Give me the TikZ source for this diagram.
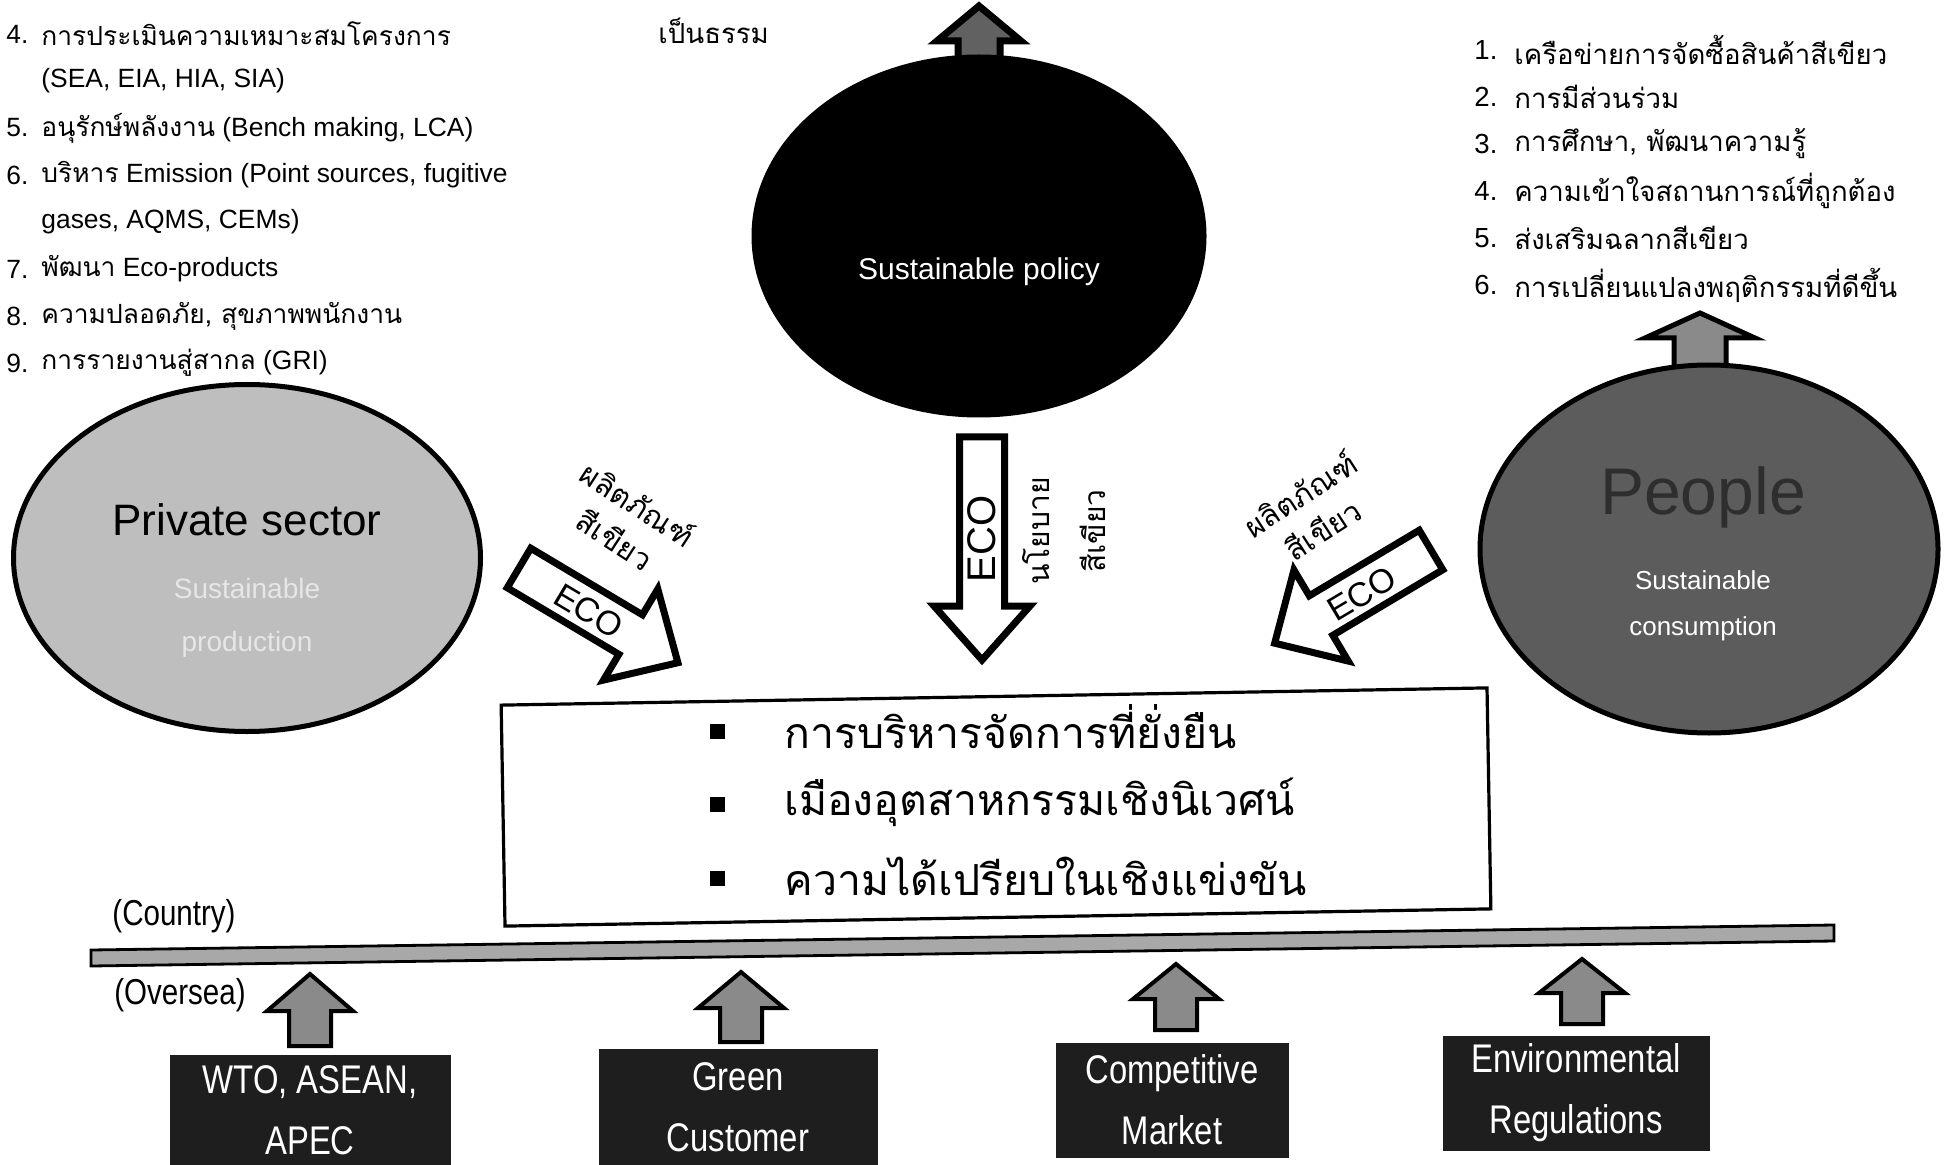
\documentclass[tikz,border=0pt]{standalone}
\usepackage{fontspec}
\setmainfont{Liberation Sans}
\newfontfamily\thaif[Script=Thai]{Loma}
\newfontfamily\narrowf[FakeStretch=0.82]{Liberation Sans}
\usetikzlibrary{shapes.geometric}
\definecolor{privfill}{HTML}{BEBEBE}
\definecolor{peopfill}{HTML}{5C5C5C}
\definecolor{peoptext}{HTML}{2E2E2E}
\definecolor{barfill}{HTML}{A8A8A8}
\definecolor{upfill}{HTML}{8A8A8A}
\definecolor{boxfill}{HTML}{1E1E1E}
\definecolor{privsub}{HTML}{E6E6E6}
\tikzset{
  listtxt/.style={anchor=west, inner sep=0pt, font=\fontsize{13.2}{16}\selectfont},
  rlisttxt/.style={anchor=west, inner sep=0pt, font=\fontsize{13.8}{16}\selectfont},
  bigell/.style={ellipse, draw=black, line width=2.5pt, inner sep=0pt},
  uparrowshape/.style={fill=upfill, draw=black, line width=2pt, line join=miter},
  ecoarrow/.style={fill=white, draw=black, line width=3.5pt, line join=miter},
  ecotxt/.style={inner sep=0pt, font=\fontsize{17}{20}\selectfont},
  thailabel/.style={inner sep=0pt, align=center, font=\thaif\fontsize{15}{21}\selectfont},
  bulletsq/.style={fill=black, inner sep=0pt, minimum size=7.5pt},
  bultxt/.style={anchor=west, inner sep=0pt, font=\thaif\fontsize{21.4}{26}\selectfont},
  darkbox/.style={fill=boxfill, draw=boxfill, inner sep=0pt, text=white, align=center, font=\narrowf\fontsize{20}{30.5}\selectfont},
  sidelabel/.style={inner sep=0pt, font=\narrowf\fontsize{18}{20}\selectfont}
}
\begin{document}
\begin{tikzpicture}[x=0.5pt,y=-0.5pt]
\fill[white] (0,0) rectangle (1946,1165);
\useasboundingbox (0,0) rectangle (1946,1165);

% ---- left list
\node[listtxt] (l4n) at (6,34) {4.};
\node[listtxt] (l4) at (41,34) {\thaif การประเมินความเหมาะสมโครงการ};
\node[listtxt] (l4b) at (41,81) {(SEA, EIA, HIA, SIA)};
\node[listtxt] (l5n) at (6,128) {5.};
\node[listtxt] (l5) at (41,128) {{\thaif อนุรักษ์พลังงาน} (Bench making, LCA)};
\node[listtxt] (l6n) at (6,175) {6.};
\node[listtxt] (l6) at (41,175) {{\thaif บริหาร} Emission (Point sources, fugitive};
\node[listtxt] (l6b) at (41,222) {gases, AQMS, CEMs)};
\node[listtxt] (l7n) at (6,269) {7.};
\node[listtxt] (l7) at (41,269) {{\thaif พัฒนา} Eco-products};
\node[listtxt] (l8n) at (6,316) {8.};
\node[listtxt] (l8) at (41,316) {\thaif ความปลอดภัย, สุขภาพพนักงาน};
\node[listtxt] (l9n) at (6,363) {9.};
\node[listtxt] (l9) at (41,363) {{\thaif การรายงานสู่สากล} (GRI)};

% ---- top centre fragment
\node[rlisttxt] (fair) at (658,31) {\thaif เป็นธรรม};

% ---- right list
\node[rlisttxt] (r1n) at (1474,50) {1.};
\node[rlisttxt] (r1) at (1514,50) {\thaif เครือข่ายการจัดซื้อสินค้าสีเขียว};
\node[rlisttxt] (r2n) at (1474,97) {2.};
\node[rlisttxt] (r2) at (1514,97) {\thaif การมีส่วนร่วม};
\node[rlisttxt] (r3n) at (1474,144) {3.};
\node[rlisttxt] (r3) at (1514,144) {\thaif การศึกษา, พัฒนาความรู้};
\node[rlisttxt] (r4n) at (1474,191) {4.};
\node[rlisttxt] (r4) at (1514,191) {\thaif ความเข้าใจสถานการณ์ที่ถูกต้อง};
\node[rlisttxt] (r5n) at (1474,238) {5.};
\node[rlisttxt] (r5) at (1514,238) {\thaif ส่งเสริมฉลากสีเขียว};
\node[rlisttxt] (r6n) at (1474,285) {6.};
\node[rlisttxt] (r6) at (1514,285) {\thaif การเปลี่ยนแปลงพฤติกรรมที่ดีขึ้น};

% ---- up arrows on ellipses
\draw[uparrowshape, fill=upfill!70!black, line width=3.5pt] (958,62) -- (958,41) -- (937,41) -- (979,6) -- (1021,41) -- (1000,41) -- (1000,62) -- cycle;
\draw[uparrowshape, line width=2.5pt] (1674,372) -- (1674,338) -- (1645,338) -- (1700,313) -- (1755,338) -- (1726,338) -- (1726,372) -- cycle;

% ---- ellipses
\node[bigell, fill=black, minimum width=225pt, minimum height=179pt] (policy) at (979,236) {};
\node[inner sep=0pt, text=white, font=\fontsize{15}{18}\selectfont] (policytxt) at (979,272) {Sustainable policy};

\node[bigell, fill=privfill, minimum width=233.5pt, minimum height=173.5pt] (private) at (247,558) {};
\node[inner sep=0pt, font=\fontsize{22}{26}\selectfont] (privtxt) at (247,520) {Private sector};
\node[inner sep=0pt, text=privsub, font=\fontsize{14}{17}\selectfont] (privsub1) at (247,588) {Sustainable};
\node[inner sep=0pt, text=privsub, font=\fontsize{14}{17}\selectfont] (privsub2) at (247,644) {production};

\node[bigell, fill=peopfill, minimum width=229pt, minimum height=184pt] (people) at (1709,549) {};
\node[inner sep=0pt, text=peoptext, font=\fontsize{33}{38}\selectfont] (peoptxt) at (1703,497) {People};
\node[inner sep=0pt, text=white, font=\fontsize{13}{16}\selectfont] (peopsub1) at (1703,580) {Sustainable};
\node[inner sep=0pt, text=white, font=\fontsize{13}{16}\selectfont] (peopsub2) at (1703,629) {consumption};

% ---- ECO arrows
\begin{scope}[shift={(519,568)}, rotate=-30.8]
\draw[ecoarrow] (0,-23) -- (130,-23) -- (130,-53) -- (185,0) -- (130,53) -- (130,23) -- (0,23) -- cycle;
\end{scope}
\node[ecotxt, rotate=-30.8] (ecoL) at (589,611) {ECO};
\node[thailabel, rotate=-33] (thaiL) at (627,521) {ผลิตภัณฑ์\\สีเขียว};

\begin{scope}[shift={(1431,550)}, rotate=210.8]
\draw[ecoarrow] (0,-23) -- (128,-23) -- (128,-53) -- (182,0) -- (128,53) -- (128,23) -- (0,23) -- cycle;
\end{scope}
\node[ecotxt, rotate=30.8] (ecoR) at (1362,594) {ECO};
\node[thailabel, rotate=33] (thaiR) at (1311,511) {ผลิตภัณฑ์\\สีเขียว};

\begin{scope}[shift={(982,437)}, rotate=-90]
\draw[ecoarrow] (0,-22.5) -- (169,-22.5) -- (169,-48) -- (223,0) -- (169,48) -- (169,22.5) -- (0,22.5) -- cycle;
\end{scope}
\node[ecotxt, rotate=90, font=\fontsize{20}{24}\selectfont] (ecoC) at (982,539) {ECO};
\node[thailabel, rotate=90, font=\thaif\fontsize{15}{28}\selectfont] (thaiC) at (1064,531) {นโยบาย\\สีเขียว};

% ---- centre box
\node[draw=black, line width=1.6pt, rotate=1, minimum width=493pt, minimum height=110.5pt, inner sep=0pt] (goals) at (996,807) {};
\node[bulletsq] (b1) at (717,731) {};
\node[bulletsq] (b2) at (717,804) {};
\node[bulletsq] (b3) at (717,878) {};
\node[bultxt] (g1) at (784,727) {การบริหารจัดการที่ยั่งยืน};
\node[bultxt] (g2) at (784,802) {เมืองอุตสาหกรรมเชิงนิเวศน์};
\node[bultxt] (g3) at (784,876) {ความได้เปรียบในเชิงแข่งขัน};

% ---- border bar
\draw[fill=barfill, draw=black, line width=1.4pt] (91,950) -- (1834,925) -- (1834,941) -- (91,966) -- cycle;
\node[sidelabel] (country) at (174,916) {(Country)};
\node[sidelabel] (oversea) at (180,995) {(Oversea)};

% ---- bottom up arrows
\draw[uparrowshape] (289,1046) -- (289,1011) -- (267,1011) -- (310,974) -- (353,1011) -- (331,1011) -- (331,1046) -- cycle;
\draw[uparrowshape] (720,1042) -- (720,1008) -- (698,1008) -- (741,972) -- (784,1008) -- (762,1008) -- (762,1042) -- cycle;
\draw[uparrowshape] (1155,1030) -- (1155,999) -- (1133,999) -- (1176,964) -- (1219,999) -- (1197,999) -- (1197,1030) -- cycle;
\draw[uparrowshape] (1561,1024) -- (1561,993) -- (1539,993) -- (1582,959) -- (1625,993) -- (1603,993) -- (1603,1024) -- cycle;

% ---- bottom boxes
\node[darkbox, minimum width=140pt, minimum height=55pt] (wto) at (310,1110) {WTO, ASEAN,\\APEC};
\node[darkbox, minimum width=139pt, minimum height=58pt] (green) at (738,1107) {Green\\Customer};
\node[darkbox, minimum width=116pt, minimum height=57pt] (market) at (1172,1100) {Competitive\\Market};
\node[darkbox, minimum width=133pt, minimum height=57pt] (regs) at (1576,1093) {Environmental\\Regulations};
\end{tikzpicture}
\end{document}
